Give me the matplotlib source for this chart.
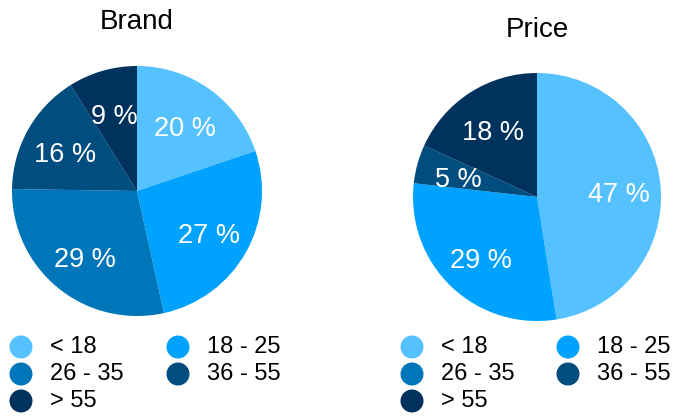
import numpy as np
import matplotlib.pyplot as plt
from matplotlib.patches import Ellipse

plt.rcParams['font.family'] = ['Liberation Sans', 'DejaVu Sans']

# age groups and their shares (%) for each question
age_groups = ['< 18', '18 - 25', '26 - 35', '36 - 55', '> 55']
brand_share = [20, 27, 29, 16, 9]
price_share = [47, 29, 0, 5, 18]
colors = ['#56C1FF', '#00A2FF', '#0076BA', '#004D80', '#00325E']

W, H = 675, 417
fig = plt.figure(figsize=(W / 100, H / 100), dpi=100)


def px_axes(cx, cy, r):
    # axes box in pixel coordinates (origin top-left) around a pie centre
    return fig.add_axes([(cx - r) / W, (H - cy - r) / H, 2 * r / W, 2 * r / H])


def draw_pie(cx, cy, r, values, title, title_y):
    ax = px_axes(cx, cy, r)
    wedges, _ = ax.pie(values, colors=colors, startangle=90, counterclock=False,
                       radius=1, wedgeprops=dict(linewidth=0))
    for w, v in zip(wedges, values):
        if v == 0:
            continue
        ang = np.deg2rad((w.theta1 + w.theta2) / 2)
        ax.annotate(f'{v} %', (0.66 * np.cos(ang), 0.66 * np.sin(ang)),
                    xytext=(0, -3.5), textcoords='offset points',
                    ha='center', va='center', color='white', fontsize=19.5)
    ax.set_xlim(-1, 1)
    ax.set_ylim(-1, 1)
    ax.axis('off')
    fig.text(cx / W, 1 - title_y / H, title, ha='center', va='center', fontsize=20)


def draw_legend(x0, col2):
    rows = [347, 374, 401]
    for i, (lab, c) in enumerate(zip(age_groups, colors)):
        x = x0 if i % 2 == 0 else x0 + col2
        y = rows[i // 2]
        fig.patches.append(Ellipse((x / W, 1 - y / H), 23 / W, 23 / H,
                                   transform=fig.transFigure, color=c, lw=0))
        fig.text((x + 29) / W, 1 - y / H, lab, ha='left', va='center', fontsize=17)


draw_pie(137, 191, 125, brand_share, 'Brand', 22)
draw_pie(537, 197, 124, price_share, 'Price', 30)
draw_legend(21, 157)
draw_legend(412, 156)

fig.savefig('out.png', dpi=100)
